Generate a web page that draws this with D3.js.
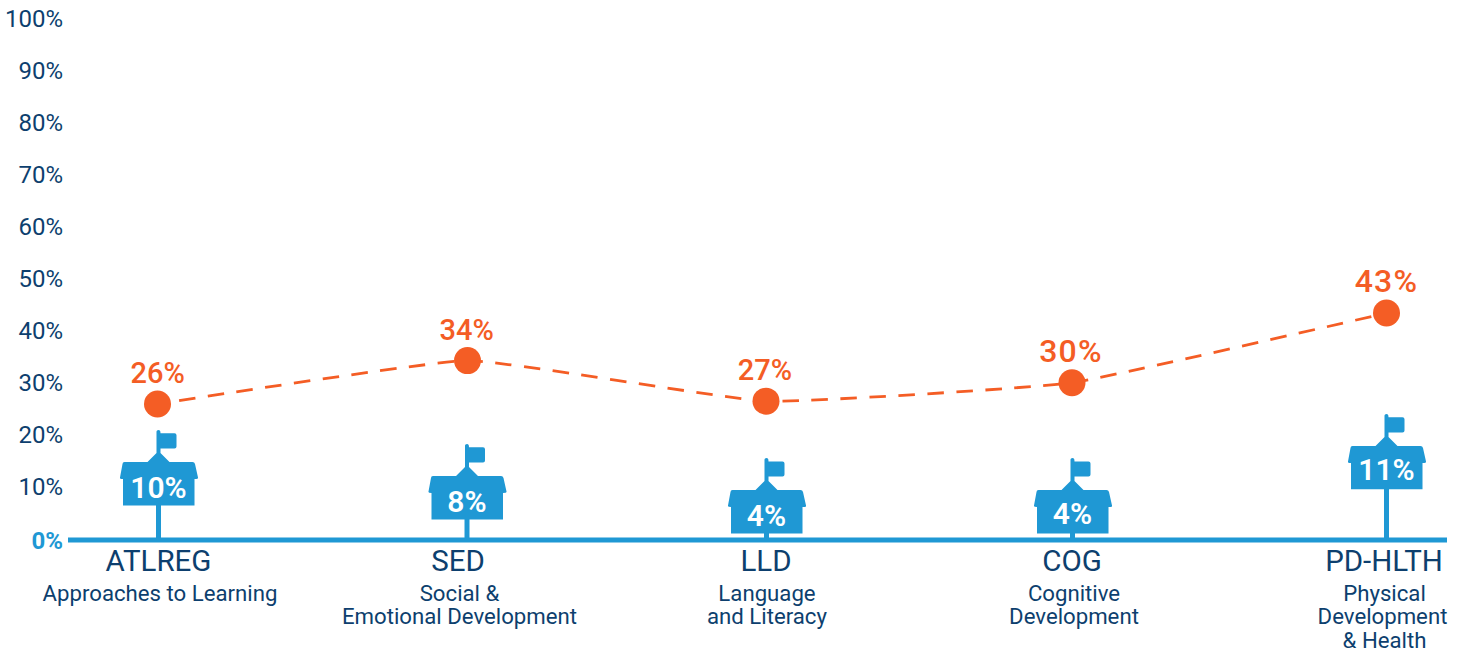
<!DOCTYPE html>
<html><head><meta charset="utf-8">
<script src="https://cdn.jsdelivr.net/npm/d3@7"></script>
<style>html,body{margin:0;padding:0;background:#fff}svg{display:block}text{font-family:Roboto,sans-serif}</style>
</head><body><svg id="c" width="1466" height="652"></svg>
<script>
const categories = ["ATLREG","SED","LLD","COG","PD-HLTH"];
const subtitles = [["Approaches to Learning"],["Social &","Emotional Development"],["Language","and Literacy"],["Cognitive","Development"],["Physical","Development","& Health"]];
const yTicks = [0,10,20,30,40,50,60,70,80,90,100];
const orangeValues = [26.15,34.5,26.7,30.25,43.65];
const orangeLabels = ["26%","34%","27%","30%","43%"];
const blueValues = [10,7.3,4.6,4.6,13.1];
const blueLabelValues = [10,7.3,4.6,5,13.4];
const blueLabels = ["10%","8%","4%","4%","11%"];

const navy="#0d3f6e", blue="#1f98d4", orange="#f45d25";
const svg=d3.select("#c");
const y=d3.scaleLinear().domain([0,100]).range([540,20]);
const x=d3.scaleOrdinal().domain(categories).range([157.5,467.5,766,1072,1386.5]);
const valueLabelX=d3.scaleOrdinal().domain(categories).range([157.7,466.7,765,1071,1386.5]);
const iconX=d3.scaleOrdinal().domain(categories).range([158.5,467,766.5,1072.5,1386.5]);
const labelX=d3.scaleOrdinal().domain(categories).range([158.5,458,766,1072,1384]);
const subX=d3.scaleOrdinal().domain(categories).range([160,459.5,767,1074,1384.5]);

// y labels
svg.append("g").selectAll("text").data(yTicks).join("text")
  .attr("x",63).attr("y",d=>y(d)-(d===0?0:2)).attr("dy","0.36em").attr("text-anchor","end")
  .attr("font-size",24).attr("font-weight",d=>d===0?700:400)
  .attr("fill",d=>d===0?blue:navy).text(d=>d+"%");
// baseline
svg.append("line").attr("x1",68).attr("x2",1447).attr("y1",y(0)).attr("y2",y(0)).attr("stroke",blue).attr("stroke-width",5);

// orange dashed curve
const line=d3.line().x((d,i)=>x(categories[i])).y(d=>y(d)).curve(d3.curveCardinal.tension(0.65));
svg.append("path").attr("d",line(orangeValues)).attr("fill","none").attr("stroke",orange)
  .attr("stroke-width",2.8).attr("stroke-dasharray","16.5 12.5").attr("stroke-dashoffset",-22);

const g=svg.append("g").selectAll("g").data(categories).join("g");
g.append("circle").attr("cx",d=>x(d)).attr("cy",(d,i)=>y(orangeValues[i])).attr("r",13.5).attr("fill",orange);
g.append("text").attr("x",d=>valueLabelX(d)).attr("y",(d,i)=>y(orangeValues[i])-21).attr("text-anchor","middle")
  .attr("font-size",(d,i)=>i>2?32:29).attr("font-weight",500).attr("letter-spacing",(d,i)=>i>2?1.2:0).attr("fill",orange).text((d,i)=>orangeLabels[i]);

// school icons, drawn around the point at the value
const school="M-34,-26 L-11,-26 L-2,-35 L-2,-56.5 Q-2,-58 0,-58 Q2,-58 2,-54.7 L16,-54.7 Q18,-54.7 18,-52.7 L18,-41.5 Q18,-39.5 16,-39.5 L2,-39.5 L2,-35 L11,-26 L34,-26 Q36,-26 36.5,-24 L39.5,-10.5 Q40,-9 36,-9 L36,17.4 L-35.5,17.4 L-35.5,-9 Q-39,-9 -38.5,-10.5 L-36,-24 Q-36,-26 -34,-26 Z";
g.append("line").attr("x1",d=>iconX(d)).attr("x2",d=>iconX(d)).attr("y1",(d,i)=>y(blueValues[i])).attr("y2",y(0)).attr("stroke",blue).attr("stroke-width",5);
g.append("path").attr("transform",(d,i)=>`translate(${iconX(d)},${y(blueValues[i])})`).attr("d",school).attr("fill",blue);
g.append("text").attr("x",d=>iconX(d)).attr("y",(d,i)=>y(blueLabelValues[i])+10).attr("text-anchor","middle")
  .attr("font-size",30).attr("font-weight",600).attr("fill","#fff").text((d,i)=>blueLabels[i]);

// category labels
g.append("text").attr("x",d=>labelX(d)).attr("y",571).attr("text-anchor","middle").attr("font-size",29.5).attr("fill",navy).text(d=>d);
g.each(function(d,i){
  d3.select(this).selectAll("text.sub").data(subtitles[i]).join("text").attr("class","sub")
   .attr("x",(s,j)=>subX(d)-(s==="Development"&&i===4?2:0)).attr("y",(s,j)=>600.5+j*23.5).attr("text-anchor","middle").attr("font-size",22.2).attr("fill",navy).text(s=>s);
});
</script></body></html>
